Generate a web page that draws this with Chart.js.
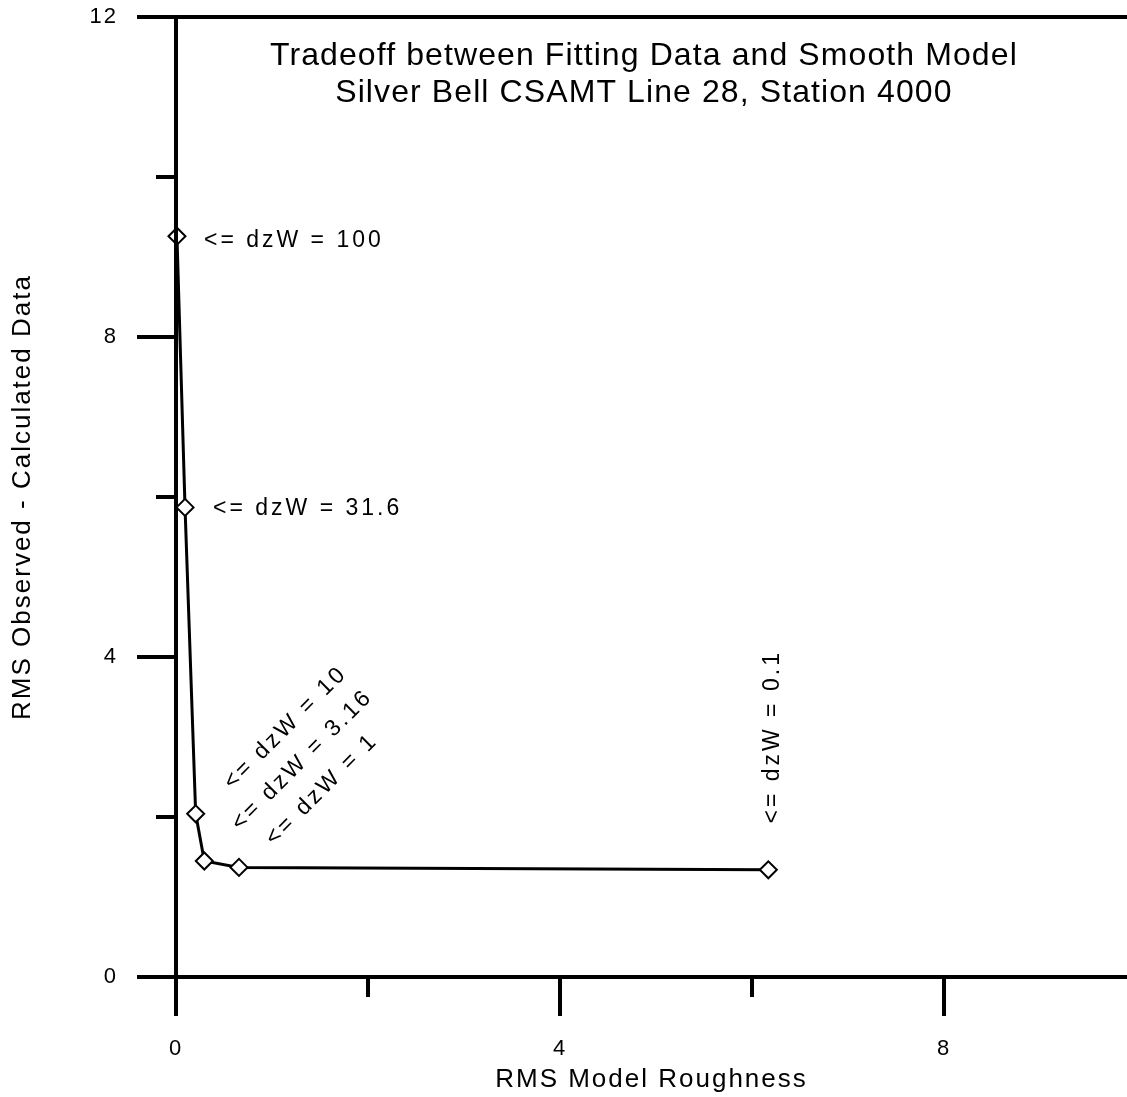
<!DOCTYPE html>
<html>
<head>
<meta charset="utf-8">
<script src="https://cdn.jsdelivr.net/npm/chart.js@4.4.1/dist/chart.umd.min.js"></script>
<style>
  html, body { margin: 0; padding: 0; background: #fff; }
  canvas { display: block; }
</style>
</head>
<body>
<canvas id="tradeoffChart" width="1127" height="1097"></canvas>
<script>
const roughness = [0.01, 0.094, 0.205, 0.295, 0.656, 6.17];
const rmsMisfit = [9.26, 5.87, 2.04, 1.45, 1.37, 1.34];
const dzWLabels = ['100', '31.6', '10', '3.16', '1', '0.1'];
const xTickValues = [0, 2, 4, 6, 8];
const yTickValues = [0, 2, 4, 6, 8, 10, 12];
const xLabelTicks = [0, 4, 8];
const yLabelTicks = [0, 4, 8, 12];
const titleLines = ['Tradeoff between Fitting Data and Smooth Model', 'Silver Bell CSAMT Line 28, Station 4000'];

const FONT = '"Liberation Sans", Arial, Helvetica, sans-serif';

// where each dzW note sits relative to its point, and its angle
const noteStyle = [
  { dx: 27, dy: 4, rot: 0, align: 'left' },
  { dx: 28, dy: 1, rot: 0, align: 'left' },
  { dx: 90, dy: -86, rot: -45, align: 'center' },
  { dx: 98, dy: -101, rot: -45, align: 'center' },
  { dx: 83, dy: -78, rot: -45, align: 'center' },
  { dx: 4, dy: -133, rot: -90, align: 'center' }
];

Chart.defaults.font.family = FONT;
Chart.defaults.color = '#000';

// wider letter spacing for the axis text, like the original plot
const spacingPlugin = {
  id: 'spacing',
  beforeDraw(chart) { chart.ctx.letterSpacing = '2px'; },
  afterDraw(chart) { chart.ctx.letterSpacing = '0px'; }
};

// crossed axes with long (labelled) and short ticks
const axesPlugin = {
  id: 'oldAxes',
  afterDatasetsDraw(chart) {
    const { ctx, chartArea: a, scales: { x, y } } = chart;
    ctx.save();
    ctx.strokeStyle = '#000';
    ctx.lineWidth = 4;
    ctx.beginPath();
    ctx.moveTo(a.left - 39, a.top); ctx.lineTo(a.right, a.top);
    ctx.moveTo(a.left - 39, a.bottom); ctx.lineTo(a.right, a.bottom);
    ctx.moveTo(a.left, a.top - 2); ctx.lineTo(a.left, a.bottom + 39);
    y.ticks.forEach(t => {
      const py = y.getPixelForValue(t.value);
      const len = yLabelTicks.includes(t.value) ? 39 : 20;
      ctx.moveTo(a.left - len, py); ctx.lineTo(a.left, py);
    });
    x.ticks.forEach(t => {
      const px = x.getPixelForValue(t.value);
      const len = xLabelTicks.includes(t.value) ? 39 : 20;
      ctx.moveTo(px, a.bottom); ctx.lineTo(px, a.bottom + len);
    });
    ctx.stroke();
    ctx.restore();
  }
};

const notesPlugin = {
  id: 'notes',
  afterDraw(chart) {
    const { ctx, chartArea: a } = chart;
    const meta = chart.getDatasetMeta(0);
    ctx.save();
    ctx.fillStyle = '#000';
    ctx.textBaseline = 'middle';
    ctx.font = '23px ' + FONT;
    ctx.letterSpacing = '3px';
    meta.data.forEach((pt, i) => {
      const s = noteStyle[i];
      ctx.save();
      ctx.translate(pt.x + s.dx, pt.y + s.dy);
      ctx.rotate(s.rot * Math.PI / 180);
      ctx.textAlign = s.align;
      ctx.fillText('<= dzW = ' + dzWLabels[i], 0, 0);
      ctx.restore();
    });

    ctx.font = '32px ' + FONT;
    ctx.letterSpacing = '1.1px';
    ctx.textAlign = 'center';
    const cx = a.left + (a.right - a.left) * 0.492;
    titleLines.forEach((line, i) => {
      ctx.fillText(line, cx, a.top + 39 + i * 37);
    });
    ctx.restore();
  }
};

// tick marks are drawn by oldAxes; the library's own ticks only push the labels out
const hiddenTicks = len => ({
  display: true,
  drawOnChartArea: false,
  drawTicks: true,
  tickLength: len,
  tickColor: 'rgba(0,0,0,0)'
});

const ctx = document.getElementById('tradeoffChart').getContext('2d');
const tradeoffChart = new Chart(ctx, {
  type: 'scatter',
  data: {
    datasets: [{
      data: roughness.map((v, i) => ({ x: v, y: rmsMisfit[i] })),
      showLine: true,
      borderColor: '#000',
      borderWidth: 3,
      tension: 0,
      pointStyle: 'rectRot',
      pointRadius: 8.5,
      pointBorderWidth: 2,
      pointBorderColor: '#000',
      pointBackgroundColor: '#fff',
      clip: false
    }]
  },
  options: {
    responsive: false,
    animation: false,
    layout: { autoPadding: false, padding: { top: 17, right: 0, left: 0, bottom: 0 } },
    plugins: {
      legend: { display: false },
      tooltip: { enabled: false }
    },
    scales: {
      x: {
        type: 'linear',
        min: 0,
        max: 9.906,
        afterBuildTicks: s => { s.ticks = xTickValues.map(v => ({ value: v })); },
        afterFit: s => { s.height = 120; s.paddingLeft = 0; s.paddingRight = 0; },
        grid: hiddenTicks(59),
        border: { display: false },
        ticks: {
          padding: 0,
          font: { size: 22 },
          color: '#000',
          maxRotation: 0,
          callback: v => xLabelTicks.includes(v) ? String(v) : ''
        },
        title: {
          display: true,
          text: 'RMS Model Roughness',
          font: { size: 26 },
          color: '#000',
          padding: { top: 0, bottom: 2 }
        }
      },
      y: {
        type: 'linear',
        min: 0,
        max: 12,
        afterBuildTicks: s => { s.ticks = yTickValues.map(v => ({ value: v })); },
        afterFit: s => { s.width = 176; s.paddingTop = 0; s.paddingBottom = 0; },
        grid: hiddenTicks(58),
        border: { display: false },
        ticks: {
          padding: 0,
          font: { size: 22 },
          color: '#000',
          callback: v => yLabelTicks.includes(v) ? String(v) : ''
        },
        title: {
          display: true,
          text: 'RMS Observed - Calculated Data',
          font: { size: 26 },
          color: '#000',
          padding: { top: 7, bottom: 0 }
        }
      }
    }
  },
  plugins: [spacingPlugin, axesPlugin, notesPlugin]
});
</script>
</body>
</html>
